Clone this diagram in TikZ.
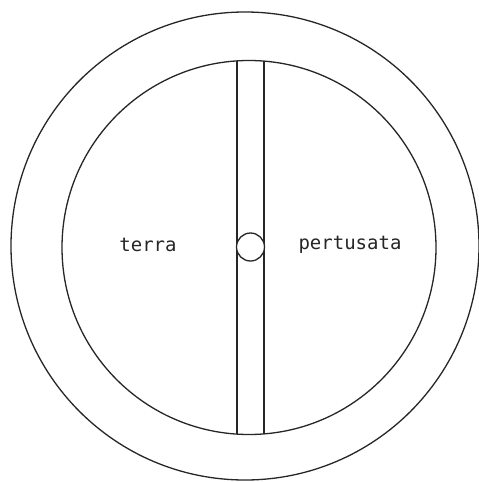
\documentclass[tikz,border=0pt]{standalone}
\usepackage{fontspec}
\newfontfamily\labelfont{DejaVu Sans Mono}
\begin{document}
\begin{tikzpicture}[x=1pt,y=-1pt,
  ring/.style={draw=black!85,line width=1.3pt},
  lab/.style={font=\labelfont\fontsize{19}{19}\selectfont,text=black!85,inner sep=0pt}]
\useasboundingbox (0,0) rectangle (479,482);
\draw[ring] (245,246) circle (234);
\draw[ring] (249,247.5) circle (187);
\coordinate (lt) at (237,60.9);
\coordinate (lb) at (237,434.1);
\coordinate (rt) at (264,61.1);
\coordinate (rb) at (264,433.9);
\draw[ring] (lt) -- (lb);
\draw[ring] (rt) -- (rb);
\node[circle,ring,fill=white,minimum size=28pt,inner sep=0pt] (hole) at (250.5,247) {};
\node[lab] (terra) at (148,245) {terra};
\node[lab] (pert) at (350,245) {pertusata};
\end{tikzpicture}
\end{document}
